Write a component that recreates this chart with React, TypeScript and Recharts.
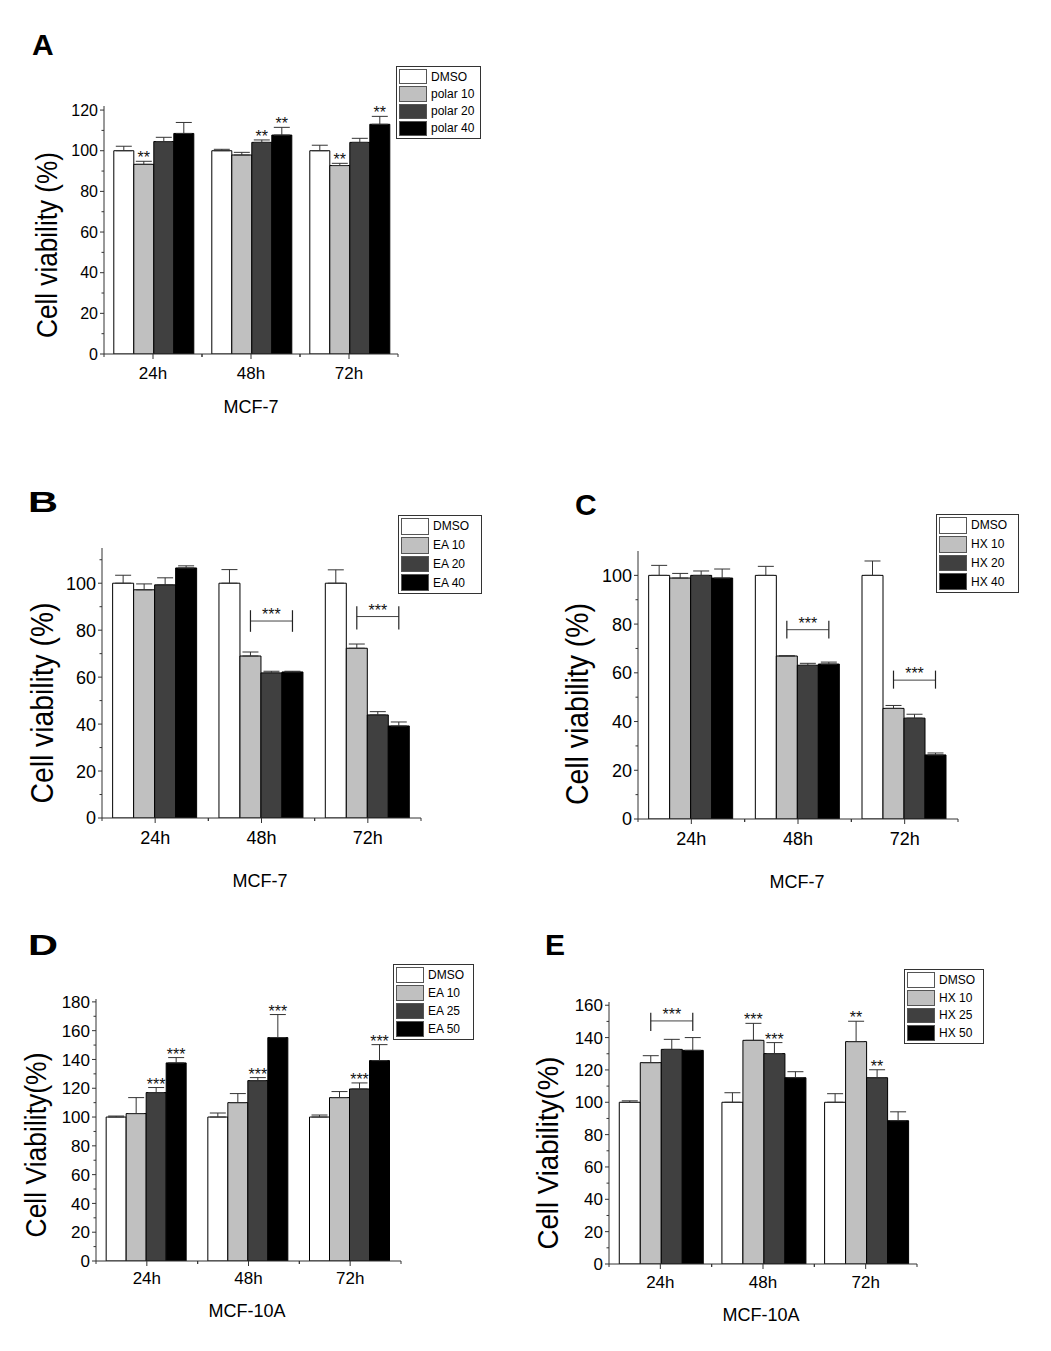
import React from "react";
import { BarChart, Bar, XAxis, YAxis, ErrorBar, LabelList, Legend } from "recharts";

const FONT = 'Arial, "Liberation Sans", Helvetica, sans-serif';
const XH = 30;
const YW = 60;

const categories = ["24h", "48h", "72h"];
const fills = ["#ffffff", "#c0c0c0", "#404040", "#000000"];

// A - MCF-7, polar fraction
const namesA = ["DMSO", "polar 10", "polar 20", "polar 40"];
const meansA = [[100, 100, 100], [93.3, 97.9, 92.7], [104.5, 104.1, 104.1], [108.5, 107.7, 113.0]];
const errA = [[2.2, 0.7, 2.7], [1.5, 1.3, 1.1], [2.1, 1.2, 2.0], [5.4, 3.8, 3.9]];
const starsA = [["", "", ""], ["**", "", "**"], ["", "**", ""], ["", "**", "**"]];
const ticksA = [0, 20, 40, 60, 80, 100, 120];
const minorA = [10, 30, 50, 70, 90, 110];

// B - MCF-7, EA fraction
const namesB = ["DMSO", "EA 10", "EA 20", "EA 40"];
const meansB = [[100, 100, 100], [97.2, 69.0, 72.3], [99.3, 61.8, 43.9], [106.5, 62.2, 39.2]];
const errB = [[3.4, 5.8, 5.7], [2.5, 1.7, 1.8], [3.0, 0.7, 1.4], [0.9, 0.3, 1.7]];
const starsB = [["", "", ""], ["", "", ""], ["", "", ""], ["", "", ""]];
// [line, tick top, tick bottom] in % units
const bracketsB = [null, [83.9, 88.5, 79.3], [85.8, 90.2, 80.3]];
const ticksB = [0, 20, 40, 60, 80, 100];
const minorB = [10, 30, 50, 70, 90, 110];

// C - MCF-7, HX fraction
const namesC = ["DMSO", "HX 10", "HX 20", "HX 40"];
const meansC = [[100, 100, 100], [98.9, 66.9, 45.4], [100, 63.1, 41.4], [98.9, 63.6, 26.3]];
const errC = [[4.1, 3.7, 5.9], [1.9, 0.1, 1.2], [1.8, 0.8, 1.6], [3.7, 0.8, 0.8]];
const starsC = [["", "", ""], ["", "", ""], ["", "", ""], ["", "", ""]];
const bracketsC = [null, [77.7, 81.4, 74.1], [57.0, 60.9, 53.5]];
const ticksC = [0, 20, 40, 60, 80, 100];
const minorC = [10, 30, 50, 70, 90];

// D - MCF-10A, EA fraction
const namesD = ["DMSO", "EA 10", "EA 25", "EA 50"];
const meansD = [[100, 100, 100], [102.4, 110.0, 113.5], [117.0, 125.3, 119.5], [137.6, 155.2, 139.2]];
const errD = [[0.7, 2.8, 1.4], [11.1, 6.3, 4.2], [3.5, 2.1, 4.2], [3.7, 16.0, 11.1]];
const starsD = [["", "", ""], ["", "", ""], ["***", "***", "***"], ["***", "***", "***"]];
const ticksD = [0, 20, 40, 60, 80, 100, 120, 140, 160, 180];
const minorD = [10, 30, 50, 70, 90, 110, 130, 150, 170];

// E - MCF-10A, HX fraction
const namesE = ["DMSO", "HX 10", "HX 25", "HX 50"];
const meansE = [[100, 100, 100], [124.5, 138.3, 137.5], [132.7, 130.1, 115.2], [132.1, 115.2, 88.6]];
const errE = [[0.9, 5.9, 5.3], [4.3, 10.5, 12.6], [6.2, 6.8, 4.9], [7.9, 3.7, 5.5]];
const starsE = [["", "", ""], ["", "***", "**"], ["", "***", "**"], ["", "", ""]];
const bracketsE = [[150.3, 155.4, 144.0], null, null];
const ticksE = [0, 20, 40, 60, 80, 100, 120, 140, 160];
const minorE = [10, 30, 50, 70, 90, 110, 130, 150];

const panels = [
  {
    letter: "A", letterPos: [32, 55], letterLen: 0,
    box: { left: 0, top: 20, width: 520, height: 420 },
    plot: { left: 104, right: 398, top: 106, bottom: 354 },
    max: 122, ticks: ticksA, minor: minorA, tickFs: 16, catFs: 17, catDy: 25,
    names: namesA, means: meansA, errs: errA, stars: starsA, brackets: null,
    yTitle: "Cell viability (%)", yTitlePos: [57, 245], yTitleFs: 30, yTitleLen: 186,
    xTitle: "MCF-7", xTitlePos: [251, 413],
    legend: { left: 396, top: 66, w: 85, h: 73 },
  },
  {
    letter: "B", letterPos: [28, 512], letterLen: 30,
    box: { left: 0, top: 480, width: 520, height: 430 },
    plot: { left: 102, right: 421, top: 548, bottom: 818 },
    max: 115, ticks: ticksB, minor: minorB, tickFs: 18, catFs: 18, catDy: 26,
    names: namesB, means: meansB, errs: errB, stars: starsB, brackets: bracketsB,
    yTitle: "Cell viability (%)", yTitlePos: [53, 703], yTitleFs: 32, yTitleLen: 201,
    xTitle: "MCF-7", xTitlePos: [260, 887],
    legend: { left: 398, top: 515, w: 84, h: 79 },
  },
  {
    letter: "C", letterPos: [575, 515], letterLen: 0,
    box: { left: 520, top: 480, width: 531, height: 430 },
    plot: { left: 638, right: 958, top: 551, bottom: 819 },
    max: 110, ticks: ticksC, minor: minorC, tickFs: 18, catFs: 18, catDy: 26,
    names: namesC, means: meansC, errs: errC, stars: starsC, brackets: bracketsC,
    yTitle: "Cell viability (%)", yTitlePos: [588, 704], yTitleFs: 31, yTitleLen: 202,
    xTitle: "MCF-7", xTitlePos: [797, 888],
    legend: { left: 936, top: 514, w: 83, h: 79 },
  },
  {
    letter: "D", letterPos: [28, 955], letterLen: 30,
    box: { left: 0, top: 920, width: 520, height: 420 },
    plot: { left: 96, right: 401, top: 999, bottom: 1261 },
    max: 182, ticks: ticksD, minor: minorD, tickFs: 17, catFs: 17, catDy: 23,
    names: namesD, means: meansD, errs: errD, stars: starsD, brackets: null,
    yTitle: "Cell Viability(%)", yTitlePos: [46, 1145], yTitleFs: 30, yTitleLen: 185,
    xTitle: "MCF-10A", xTitlePos: [247, 1317],
    legend: { left: 393, top: 964, w: 81, h: 76 },
  },
  {
    letter: "E", letterPos: [545, 955], letterLen: 0,
    box: { left: 520, top: 920, width: 531, height: 420 },
    plot: { left: 609, right: 917, top: 1002, bottom: 1264 },
    max: 162, ticks: ticksE, minor: minorE, tickFs: 17, catFs: 17, catDy: 24,
    names: namesE, means: meansE, errs: errE, stars: starsE, brackets: bracketsE,
    yTitle: "Cell Viability(%)", yTitlePos: [558, 1153], yTitleFs: 29, yTitleLen: 193,
    xTitle: "MCF-10A", xTitlePos: [761, 1321],
    legend: { left: 904, top: 969, w: 80, h: 75 },
  },
];

const XTick = (props: any) => {
  const { x, y, payload, band, fs, dy } = props;
  const axisY = y - 5;
  return (
    <g>
      <line x1={x - band / 2} x2={x - band / 2} y1={axisY} y2={axisY + 3} stroke="#333" />
      <line x1={x + band / 2} x2={x + band / 2} y1={axisY} y2={axisY + 3} stroke="#333" />
      <text x={x} y={axisY + dy} textAnchor="middle" fontSize={fs} fontFamily={FONT} fill="#000">
        {payload.value}
      </text>
    </g>
  );
};

// major ticks get a label and a longer mark, minor ticks only a short mark
const YTick = (props: any) => {
  const { x, y, payload, majors, fs } = props;
  const v = payload.value;
  const major = majors.includes(v);
  const axisX = x + 6;
  return (
    <g>
      <line x1={axisX - (major ? 4 : 2.5)} x2={axisX} y1={y} y2={y} stroke="#333" />
      {major && (
        <text x={axisX - 6} y={y} dy="0.36em" textAnchor="end" fontSize={fs} fontFamily={FONT} fill="#000">
          {v}
        </text>
      )}
    </g>
  );
};

const LegendBox = ({ names, w, h }: any) => {
  const rowH = (h - 4) / names.length;
  return (
    <div
      style={{
        width: w, height: h, boxSizing: "border-box", border: "1px solid #333",
        background: "#fff", padding: "1px 2px", fontFamily: FONT,
      }}
    >
      {names.map((n: string, i: number) => (
        <div key={n} style={{ display: "flex", alignItems: "center", height: rowH }}>
          <span
            style={{
              display: "inline-block", width: 28, height: rowH - 2, boxSizing: "border-box",
              background: fills[i], border: "1px solid #555", marginRight: 4,
            }}
          />
          <span style={{ fontSize: 12, color: "#000", lineHeight: 1 }}>{n}</span>
        </div>
      ))}
    </div>
  );
};

function Panel({ cfg }: { cfg: any }) {
  const { box, plot } = cfg;
  const ox = box.left;
  const oy = box.top;
  const data = categories.map((c, i) => {
    const row: any = { cat: c };
    cfg.means.forEach((m: number[], s: number) => {
      row["v" + s] = m[i];
      row["e" + s] = [0, cfg.errs[s][i]];
      row["t" + s] = cfg.stars[s][i];
    });
    return row;
  });
  const margin = {
    left: plot.left - ox - YW,
    top: plot.top - oy,
    right: ox + box.width - plot.right,
    bottom: oy + box.height - plot.bottom - XH,
  };
  const band = (plot.right - plot.left) / 3;
  const allTicks = [...cfg.ticks, ...cfg.minor].sort((a: number, b: number) => a - b);

  const starContent = (s: number) => (p: any) => {
    const vb = p.viewBox ?? p;
    const i = p.index;
    const t = cfg.stars[s][i];
    if (!t) return null;
    const ppu = vb.height / cfg.means[s][i];
    const errTop = vb.y - cfg.errs[s][i] * ppu;
    return (
      <text x={vb.x + vb.width / 2} y={errTop + 2} textAnchor="middle" fontSize={16} fontFamily={FONT} fill="#111">
        {t}
      </text>
    );
  };

  const bracketContent = (p: any) => {
    const vb = p.viewBox ?? p;
    const i = p.index;
    const b = cfg.brackets && cfg.brackets[i];
    if (!b) return null;
    const ppu = vb.height / cfg.means[1][i];
    const zeroY = vb.y + vb.height;
    const x1 = vb.x + vb.width / 2;
    const x2 = x1 + 2 * vb.width;
    const yl = zeroY - b[0] * ppu;
    const yt = zeroY - b[1] * ppu;
    const yb = zeroY - b[2] * ppu;
    return (
      <g>
        <line x1={x1} x2={x2} y1={yl} y2={yl} stroke="#444" strokeWidth={1} />
        <line x1={x1} x2={x1} y1={yt} y2={yb} stroke="#222" strokeWidth={1.2} />
        <line x1={x2} x2={x2} y1={yt} y2={yb} stroke="#222" strokeWidth={1.2} />
        <text x={(x1 + x2) / 2} y={yl - 1} textAnchor="middle" fontSize={16} fontFamily={FONT} fill="#111">
          ***
        </text>
      </g>
    );
  };

  const yTitle = () => (
    <g>
      <text
        transform={`translate(${cfg.yTitlePos[0] - ox},${cfg.yTitlePos[1] - oy}) rotate(-90)`}
        textAnchor="middle" fontSize={cfg.yTitleFs} fontFamily={FONT} fill="#000"
        textLength={cfg.yTitleLen} lengthAdjust="spacingAndGlyphs"
      >
        {cfg.yTitle}
      </text>
      <text
        x={cfg.letterPos[0] - ox} y={cfg.letterPos[1] - oy} fontSize={30} fontWeight="bold"
        fontFamily={FONT} fill="#000"
        {...(cfg.letterLen ? { textLength: cfg.letterLen, lengthAdjust: "spacingAndGlyphs" } : {})}
      >
        {cfg.letter}
      </text>
    </g>
  );

  const xTitle = () => (
    <text
      x={cfg.xTitlePos[0] - ox} y={cfg.xTitlePos[1] - oy} textAnchor="middle"
      fontSize={18} fontFamily={FONT} fill="#000"
    >
      {cfg.xTitle}
    </text>
  );

  return (
    <div style={{ position: "absolute", left: ox, top: oy }}>
      <BarChart
        width={box.width} height={box.height} data={data} margin={margin}
        barCategoryGap="10%" barGap={0}
      >
        <XAxis
          dataKey="cat" height={XH} interval={0} tickSize={5} tickMargin={0} stroke="#333"
          tick={<XTick band={band} fs={cfg.catFs} dy={cfg.catDy} />}
          label={xTitle}
        />
        <YAxis
          width={YW} domain={[0, cfg.max]} ticks={allTicks} interval={0}
          allowDataOverflow tickSize={4} tickMargin={2} tickLine={false} stroke="#333"
          tick={<YTick majors={cfg.ticks} fs={cfg.tickFs} />}
          label={yTitle}
        />
        {cfg.names.map((n: string, s: number) => (
          <Bar
            key={n} dataKey={"v" + s} name={n} fill={fills[s]}
            stroke="#000" strokeWidth={1} isAnimationActive={false}
          >
            <ErrorBar dataKey={"e" + s} width={8} stroke="#333" strokeWidth={1} direction="y" />
            <LabelList dataKey={"t" + s} content={starContent(s)} />
            {s === 1 && cfg.brackets && <LabelList dataKey="v1" content={bracketContent} />}
          </Bar>
        ))}
        <Legend
          layout="horizontal" verticalAlign="middle" align="center"
          wrapperStyle={{ left: cfg.legend.left - ox, top: cfg.legend.top - oy, width: cfg.legend.w, height: cfg.legend.h }}
          content={<LegendBox names={cfg.names} w={cfg.legend.w} h={cfg.legend.h} />}
        />
      </BarChart>
    </div>
  );
}

export default function App() {
  return (
    <div style={{ position: "absolute", left: 0, top: 0, width: 1051, height: 1351, background: "#fff" }}>
      {panels.map((p) => (
        <Panel key={p.letter} cfg={p} />
      ))}
    </div>
  );
}
